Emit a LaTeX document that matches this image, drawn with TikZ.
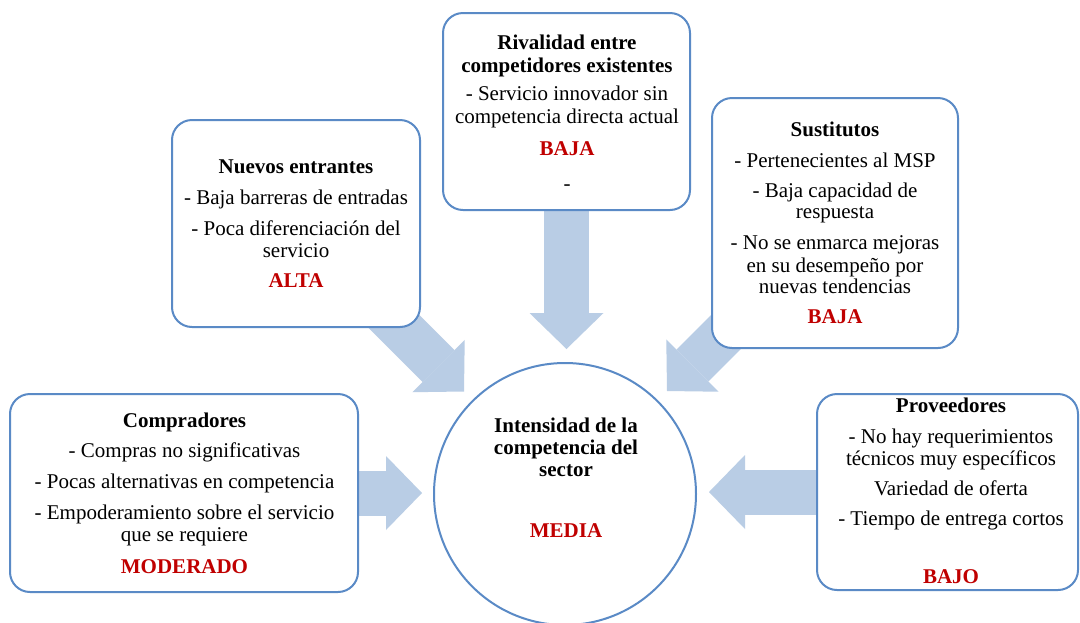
\documentclass[tikz,border=0pt]{standalone}
\usepackage{fontspec}
\setmainfont{Liberation Serif}
\usetikzlibrary{arrows.meta,backgrounds}
\definecolor{boxblue}{HTML}{5A8AC6}
\definecolor{arrowfill}{HTML}{B9CDE5}
\definecolor{lvlred}{HTML}{C00000}
\begin{document}
\begin{tikzpicture}[x=1pt,y=-1pt,
  box/.style={draw=boxblue, line width=2pt, fill=white, rounded corners=20pt, inner sep=0pt},
  txt/.style={font=\fontsize{21}{22}\selectfont, inner sep=0pt, anchor=base},
  ttl/.style={font=\fontsize{21}{22}\selectfont\bfseries, inner sep=0pt, anchor=base},
  lvl/.style={ttl, text=lvlred},
  blockarrow/.style={draw=arrowfill, line width=45pt, -{Triangle[width=74pt,length=36pt,line width=0pt]}}]
\useasboundingbox (0,0) rectangle (1080,622);

% boxes
\node[box, minimum width=248pt, minimum height=207pt] (ne) at (296,223.5) {};
\node[box, minimum width=247pt, minimum height=197pt] (riv) at (566.5,111.5) {};
\node[box, minimum width=246pt, minimum height=250pt] (sus) at (835,223) {};
\node[box, minimum width=348pt, minimum height=198pt] (comp) at (184,493) {};
\node[box, minimum width=261pt, minimum height=196pt] (prov) at (947.5,492) {};
\node[draw=boxblue, line width=2pt, fill=white, circle, minimum size=262pt, inner sep=0pt] (ctr) at (565,494) {};

% arrow tips
\coordinate (tipT) at (566.5,349);
\coordinate (tipNE) at (464,391.5);
\coordinate (tipSU) at (667,391);
\coordinate (tipCO) at (422,493);
\coordinate (tipPR) at (709,492);

\begin{scope}[on background layer]
\fill[white] (0,0) rectangle (1080,622);
\draw[blockarrow] (riv.center) -- (tipT);
\draw[blockarrow] (ne.center) -- (tipNE);
\draw[blockarrow] (sus.center) -- (tipSU);
\draw[blockarrow] (comp.center) -- (tipCO);
\draw[blockarrow] (prov.center) -- (tipPR);
\end{scope}

% Nuevos entrantes
\node[ttl] (ne1) at (296,173) {Nuevos entrantes};
\node[txt] (ne2) at (296,204) {- Baja barreras de entradas};
\node[txt] (ne3) at (296,235) {- Poca diferenciación del};
\node[txt] (ne4) at (296,257) {servicio};
\node[lvl] (ne5) at (296,287) {ALTA};

% Rivalidad
\node[ttl] (rv1) at (567,49) {Rivalidad entre};
\node[ttl] (rv2) at (567,72) {competidores existentes};
\node[txt] (rv3) at (567,100) {- Servicio innovador sin};
\node[txt] (rv4) at (567,123) {competencia directa actual};
\node[lvl] (rv5) at (567,155) {BAJA};
\node[txt] (rv6) at (567,190) {-};

% Sustitutos
\node[ttl] (su1) at (835,136) {Sustitutos};
\node[txt] (su2) at (835,167) {- Pertenecientes al MSP};
\node[txt] (su3) at (835,197) {- Baja capacidad de};
\node[txt] (su4) at (835,218) {respuesta};
\node[txt] (su5) at (835,249) {- No se enmarca mejoras};
\node[txt] (su6) at (835,272) {en su desempeño por};
\node[txt] (su7) at (835,293) {nuevas tendencias};
\node[lvl] (su8) at (835,323) {BAJA};

% Compradores
\node[ttl] (co1) at (184.5,427) {Compradores};
\node[txt] (co2) at (184.5,457) {- Compras no significativas};
\node[txt] (co3) at (184.5,488) {- Pocas alternativas en competencia};
\node[txt] (co4) at (184.5,519) {- Empoderamiento sobre el servicio};
\node[txt] (co5) at (184.5,541) {que se requiere};
\node[lvl] (co6) at (184.5,573) {MODERADO};

% Proveedores
\node[ttl] (pr1) at (951,412) {Proveedores};
\node[txt] (pr2) at (951,443) {- No hay requerimientos};
\node[txt] (pr3) at (951,465) {técnicos muy específicos};
\node[txt] (pr4) at (951,495) {Variedad de oferta};
\node[txt] (pr5) at (951,525) {- Tiempo de entrega cortos};
\node[lvl] (pr6) at (951,583) {BAJO};

% Centre
\node[ttl] (c1) at (566,432) {Intensidad de la};
\node[ttl] (c2) at (566,454) {competencia del};
\node[ttl] (c3) at (566,476) {sector};
\node[lvl] (c4) at (566,537) {MEDIA};
\end{tikzpicture}
\end{document}
